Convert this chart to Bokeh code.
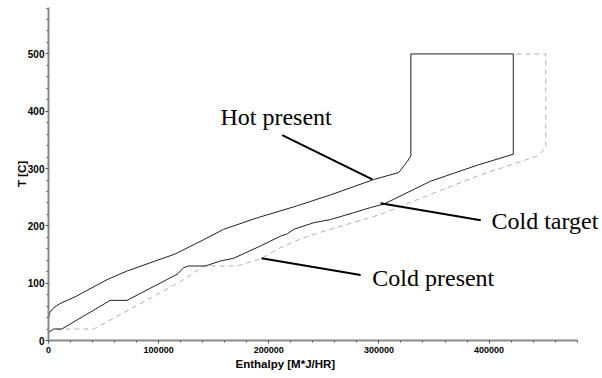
from bokeh.plotting import figure
from bokeh.models import Label, SingleIntervalTicker, BasicTickFormatter, Range1d, Title
from bokeh.embed import file_html
from bokeh.resources import INLINE

# ---- data ----
hot_x = [0, 1000, 4000, 10000, 18000, 25000, 53000, 71000, 115000, 141000, 159000,
         189500, 225800, 256000, 295500, 318000, 326000, 329000, 329000, 422000, 422000]
hot_t = [38, 48, 56, 64, 71, 77, 106, 121, 151, 176, 194,
         214, 235, 254, 281, 293, 313, 322, 500, 500, 325]

cold_target_x = [0, 4500, 12000, 56000, 71300, 116700, 122700, 127000, 142500, 156000,
                 168000, 192500, 210600, 216700, 222700, 241000, 256000, 277000, 292500,
                 304500, 347000, 389500, 422000]
cold_target_t = [14, 20, 20, 70, 70, 115.5, 127, 130, 130, 138.7,
                 143.4, 165, 182, 186, 194, 205.6, 211, 223, 232,
                 238, 278, 306, 325]

cold_present_x = [0, 4500, 41000, 119700, 138000, 141000, 171000, 194000, 210600, 231800,
                  256000, 301500, 347000, 389500, 444000, 451500, 451500, 422000]
cold_present_t = [14, 20, 20, 102.6, 126, 130, 130, 143.5, 162, 179.5,
                  194, 220, 255, 287, 322, 336, 500, 500]

label_texts = ["Hot present", "Cold target", "Cold present"]
label_x = [156100, 402200, 294000]
label_y = [390, 209, 109]

leader_x0 = [212200, 301500, 193400]
leader_y0 = [358.5, 239.4, 143.5]
leader_x1 = [294000, 392500, 283400]
leader_y1 = [281.3, 209.8, 114.3]

x_title = "Enthalpy [M*J/HR]"
y_title = "T [C]"

p = figure(width=602, height=378, output_backend="svg", toolbar_location=None,
           x_range=Range1d(0, 503000), y_range=Range1d(0, 581),
           min_border_left=48, min_border_right=0, min_border_top=7, min_border_bottom=38)
p.outline_line_color = None
p.xgrid.visible = False
p.ygrid.visible = False
p.background_fill_color = "white"

p.xaxis.ticker = SingleIntervalTicker(interval=100000, num_minor_ticks=5)
p.yaxis.ticker = SingleIntervalTicker(interval=100, num_minor_ticks=5)
p.xaxis.formatter = BasicTickFormatter(use_scientific=False)
p.xaxis.bounds = (0, 480000)

for ax in (p.xaxis, p.yaxis):
    ax.axis_line_color = "#8a8a8a"
    ax.axis_line_width = 2
    ax.major_tick_line_color = "#555555"
    ax.minor_tick_line_color = "#555555"
    ax.major_tick_out = 3
    ax.major_tick_in = 0
    ax.minor_tick_out = 2
    ax.minor_tick_in = 0
    ax.major_label_text_font = "Liberation Sans"
    ax.major_label_text_font_style = "bold"
    ax.major_label_text_color = "black"
p.xaxis.major_label_text_font_size = "9px"
p.yaxis.major_label_text_font_size = "10px"
p.xaxis.major_label_standoff = 3
p.yaxis.major_label_standoff = 1

p.yaxis.axis_label = y_title
p.yaxis.axis_label_text_font = "Liberation Sans"
p.yaxis.axis_label_text_font_style = "bold"
p.yaxis.axis_label_text_font_size = "11.5px"
p.yaxis.axis_label_text_color = "black"
p.yaxis.axis_label_standoff = -3

p.add_layout(Title(text=x_title, align="left", offset=187, standoff=0,
                   text_font="Liberation Sans", text_font_style="bold",
                   text_font_size="11.5px", text_color="black"), "below")

p.line(cold_present_x, cold_present_t, line_color="#b0b0b0", line_width=1, line_dash="5 4")
p.line(cold_target_x, cold_target_t, line_color="#222222", line_width=1)
p.line(hot_x, hot_t, line_color="#222222", line_width=1)

p.segment(x0=leader_x0, y0=leader_y0, x1=leader_x1, y1=leader_y1,
          line_color="black", line_width=2)

for t, lx, ly in zip(label_texts, label_x, label_y):
    p.add_layout(Label(x=lx, y=ly, text=t, text_font="Liberation Serif",
                       text_font_size="24px", text_color="black",
                       text_baseline="alphabetic", text_align="left"))

open("out.html", "w").write(file_html(p, INLINE))
